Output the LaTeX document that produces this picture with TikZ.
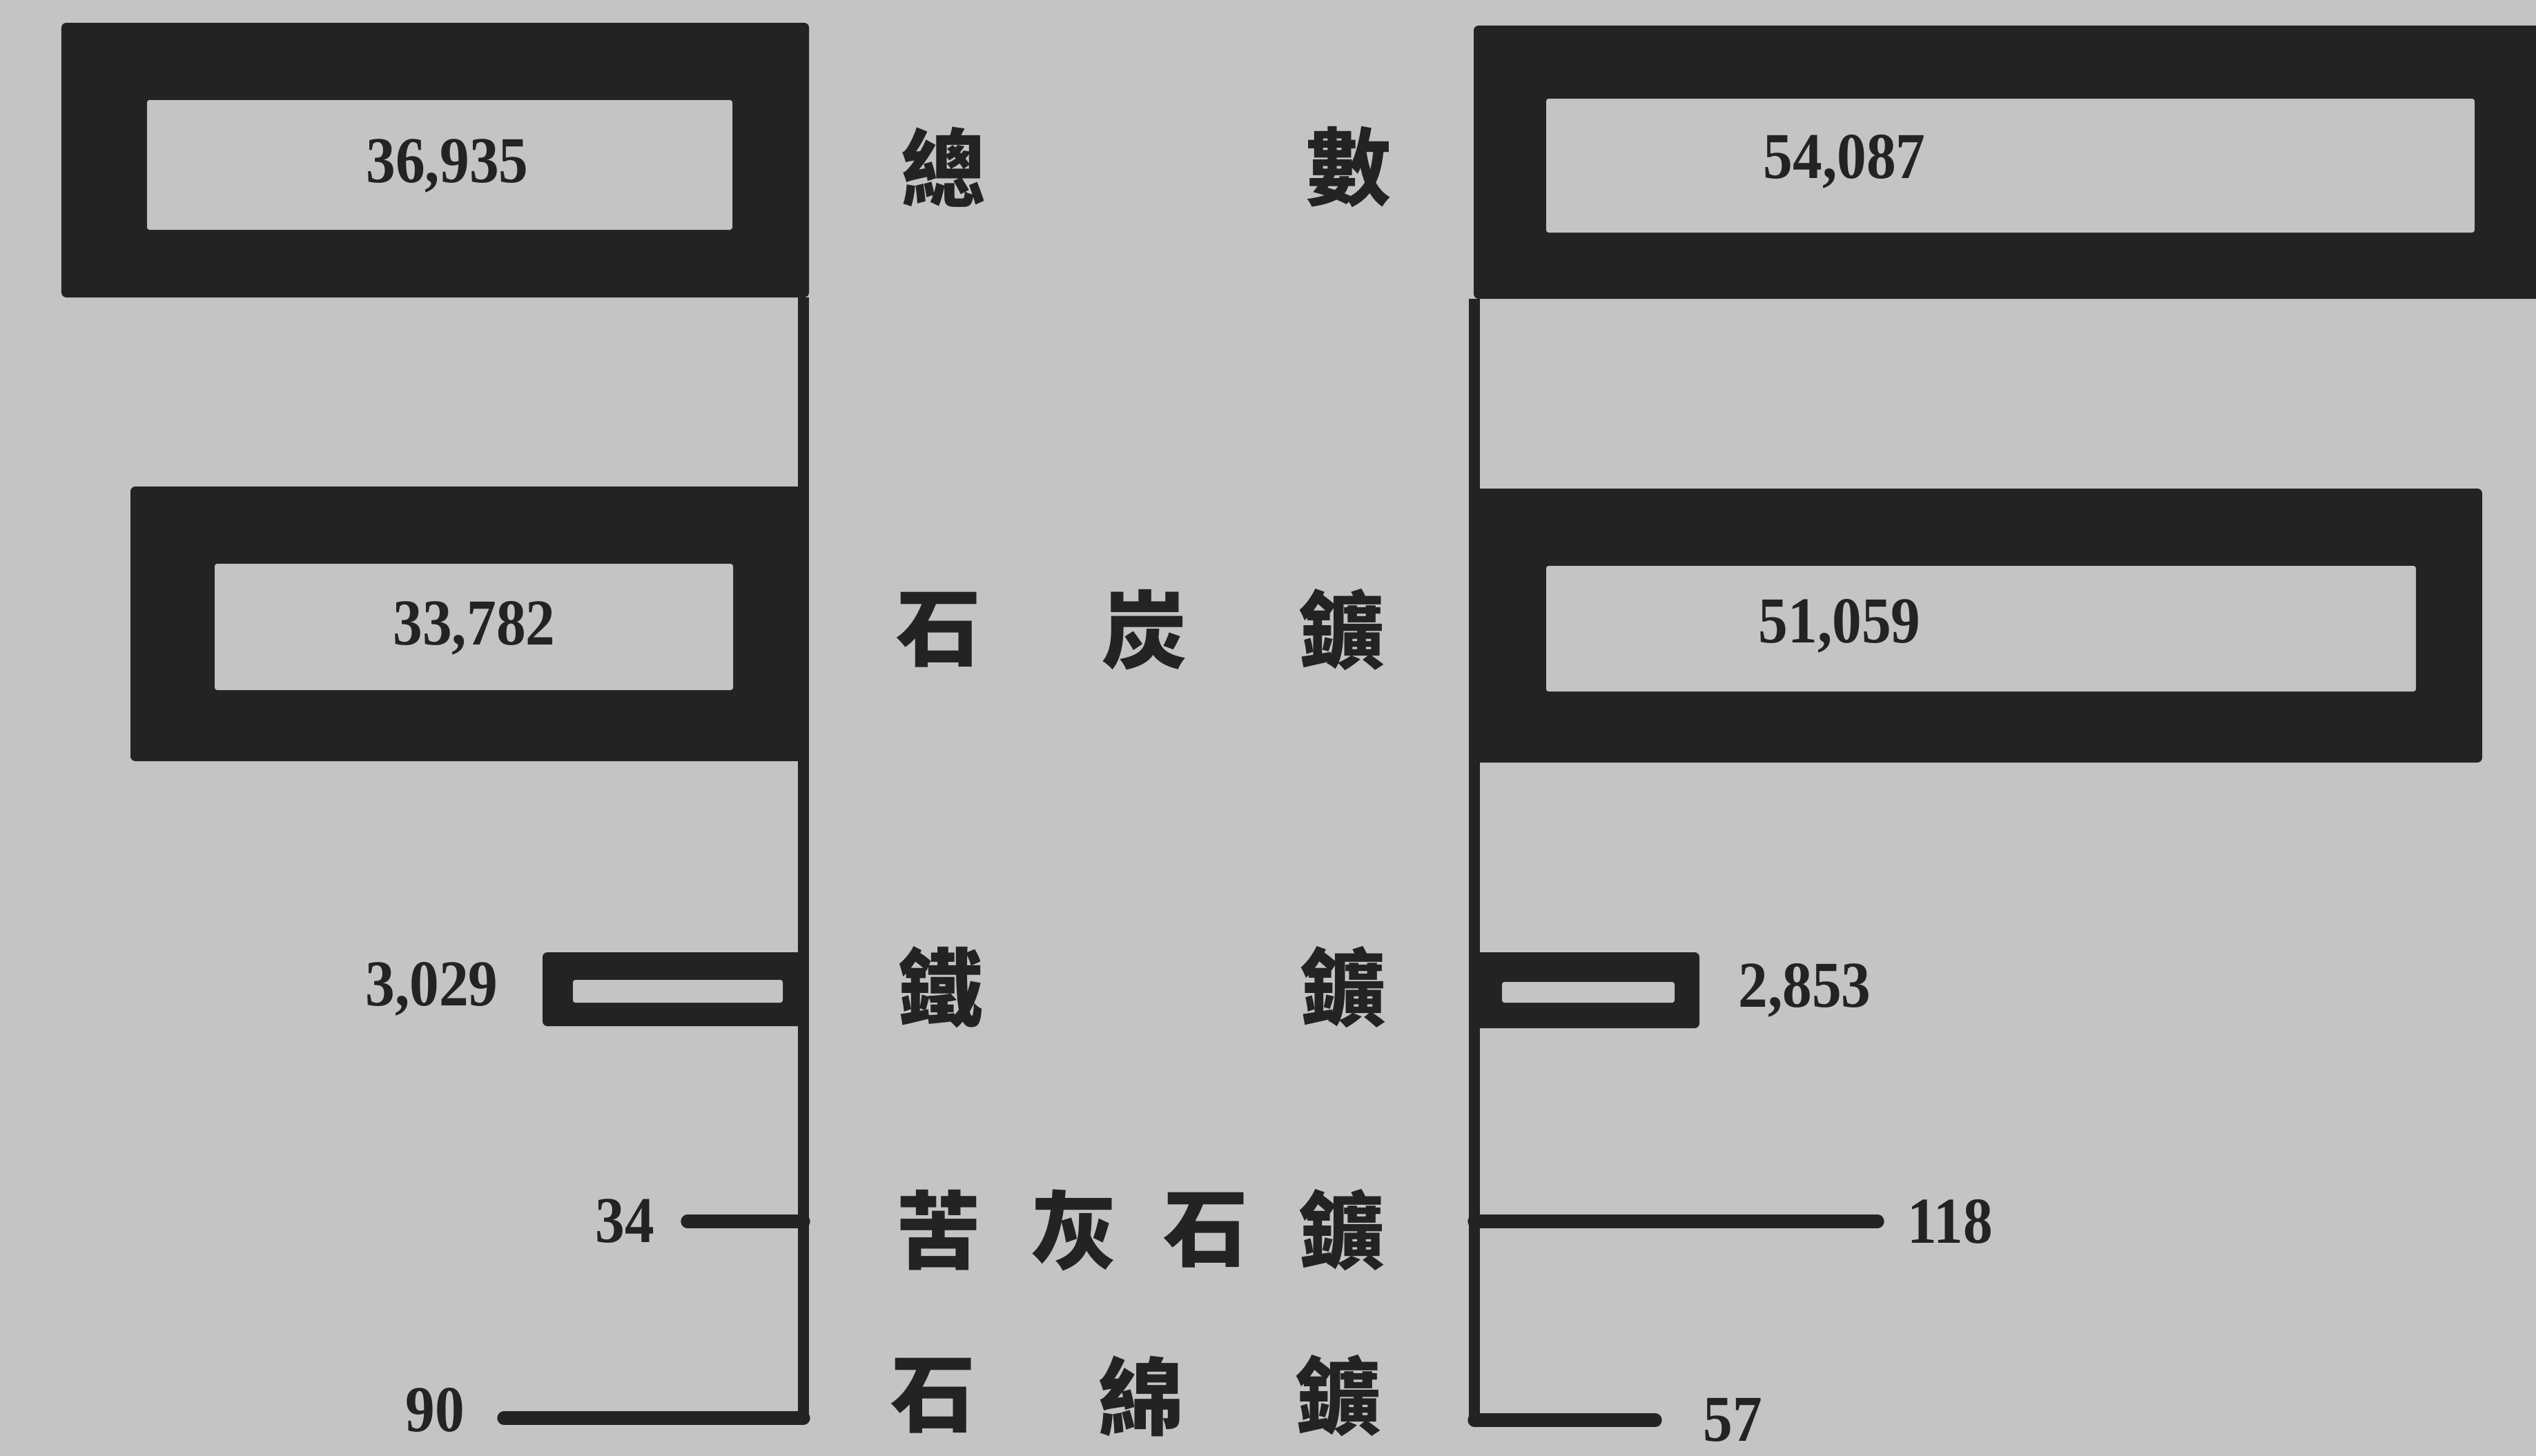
\documentclass[tikz,border=0pt]{standalone}
\usepackage{fontspec}
\newfontfamily\cjk{Noto Sans CJK TC}
\newfontfamily\numfont{Liberation Serif}
\usetikzlibrary{positioning}
\definecolor{paper}{HTML}{C4C4C4}
\definecolor{ink}{HTML}{232323}
\newcommand{\numsq}[1]{\scalebox{0.9}[1]{#1}}
\tikzset{
  frame/.style={fill=ink, inner sep=0pt, rounded corners=2pt},
  hole/.style={fill=paper, inner sep=0pt, rounded corners=1pt},
  num/.style={font=\numfont\bfseries\fontsize{27}{27}\selectfont, text=ink, inner sep=0pt},
  kanji/.style={font=\cjk\bfseries\fontsize{35}{35}\selectfont, text=ink, inner sep=0pt},
  axis/.style={draw=ink, line width=4.3pt},
  stub/.style={draw=ink, line width=5.5pt, line cap=round},
}
\begin{document}
\begin{tikzpicture}
\fill[paper] (0,0) rectangle (36.74,-21.10);
\useasboundingbox (0,0) rectangle (36.74,-21.10);
% left column
\node[frame, minimum width=10.83cm, minimum height=3.98cm] (ltot) at (6.305,-2.32) {};
\node[hole, minimum width=8.48cm, minimum height=1.88cm] (ltoth) at (6.37,-2.39) {};
\node[num] (ltotn) at (6.48,-2.40) {\numsq{36,935}};
\node[frame, minimum width=9.81cm, minimum height=3.98cm] (lcoal) at (6.795,-9.04) {};
\node[hole, minimum width=7.51cm, minimum height=1.83cm] (lcoalh) at (6.865,-9.085) {};
\node[num] (lcoaln) at (6.87,-9.10) {\numsq{33,782}};
\node[frame, minimum width=3.84cm, minimum height=1.07cm] (liron) at (9.78,-14.335) {};
\node[hole, minimum width=3.04cm, minimum height=0.33cm] (lironh) at (9.82,-14.365) {};
\node[num, left=0.63cm of liron] (lironn) {\numsq{3,029}};
\coordinate (laxtop) at (11.64,-4.31);
\coordinate (laxbot) at (11.64,-20.55);
\coordinate (ldolo) at (9.96,-17.70);
\coordinate (lasb) at (7.30,-20.55);
\draw[axis] (laxtop) -- (laxbot);
\draw[stub] (ldolo) -- (ldolo -| laxtop);
\draw[stub] (lasb) -- (laxbot);
\node[num, left=0.47cm of ldolo] (ldolon) {\numsq{34}};
\node[num, left=0.56cm of lasb, yshift=0.12cm] (lasbn) {\numsq{90}};
% right column
\node[frame, minimum width=15.65cm, minimum height=3.96cm] (rtot) at (29.175,-2.35) {};
\node[hole, minimum width=13.45cm, minimum height=1.94cm] (rtoth) at (29.125,-2.40) {};
\node[num] (rtotn) at (26.72,-2.34) {\numsq{54,087}};
\node[frame, minimum width=14.61cm, minimum height=3.97cm] (rcoal) at (28.655,-9.065) {};
\node[hole, minimum width=12.60cm, minimum height=1.82cm] (rcoalh) at (28.70,-9.11) {};
\node[num] (rcoaln) at (26.65,-9.07) {\numsq{51,059}};
\node[frame, minimum width=3.29cm, minimum height=1.10cm] (riron) at (22.975,-14.35) {};
\node[hole, minimum width=2.50cm, minimum height=0.30cm] (rironh) at (23.01,-14.38) {};
\node[num, right=0.55cm of riron] (rironn) {\numsq{2,853}};
\coordinate (raxtop) at (21.36,-4.33);
\coordinate (raxbot) at (21.36,-20.58);
\coordinate (rdolo) at (27.20,-17.70);
\coordinate (rasb) at (23.98,-20.58);
\draw[axis] (raxtop) -- (raxbot);
\draw[stub] (rdolo) -- (rdolo -| raxtop);
\draw[stub] (rasb) -- (raxbot);
\node[num, right=0.43cm of rdolo] (rdolon) {\numsq{118}};
\node[num, right=0.69cm of rasb] (rasbn) {\numsq{57}};
% names in the middle
\foreach \ch/\x/\y/\nm in {總/13.67/-2.42/k11, 數/19.54/-2.42/k12,
    石/13.60/-9.13/k21, 炭/16.58/-9.13/k22, 鑛/19.44/-9.13/k23,
    鐵/13.62/-14.31/k31, 鑛/19.46/-14.31/k32,
    苦/13.60/-17.83/k41, 灰/15.56/-17.83/k42, 石/17.47/-17.83/k43, 鑛/19.44/-17.83/k44,
    石/13.52/-20.23/k51, 綿/16.53/-20.23/k52, 鑛/19.39/-20.23/k53}
  \node[kanji] (\nm) at (\x,\y) {\ch};
\end{tikzpicture}
\end{document}
